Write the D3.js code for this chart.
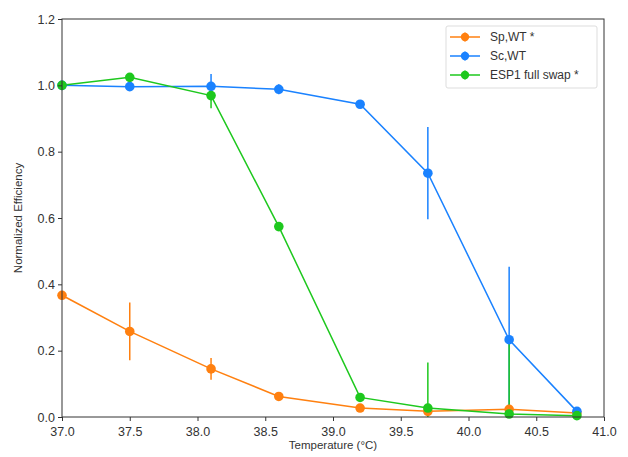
<!DOCTYPE html>
<html>
<head>
<meta charset="utf-8">
<script src="https://cdn.jsdelivr.net/npm/d3@7"></script>
<style>
  body { margin: 0; background: #fff; }
  svg text { font-family: "Liberation Sans", Arial, sans-serif; fill: #333; }
</style>
</head>
<body>
<div class="graph"></div>
<script>
/*
    Data
*/
const temperatures = [37.0, 37.5, 38.1, 38.6, 39.2, 39.7, 40.3, 40.8];

const sp_wt = [0.367, 0.258, 0.145, 0.062, 0.027, 0.017, 0.023, 0.012];
const sp_wt_err = [0, 0.087, 0.033, 0, 0, 0, 0, 0];

const sc_wt = [1.0, 0.996, 0.997, 0.988, 0.943, 0.735, 0.233, 0.017];
const sc_wt_err = [0, 0, 0.037, 0.015, 0, 0.139, 0.22, 0];

const esp1_swap = [1.0, 1.024, 0.969, 0.574, 0.059, 0.027, 0.009, 0.004];
const esp1_swap_err = [0, 0, 0.038, 0, 0, 0.137, 0.23, 0];

const x_ticks = [37.0, 37.5, 38.0, 38.5, 39.0, 39.5, 40.0, 40.5, 41.0];
const y_ticks = [0.0, 0.2, 0.4, 0.6, 0.8, 1.0, 1.2];

const series = [
    { name: "Sp,WT *", values: sp_wt, err: sp_wt_err, color: "#ff8010" },
    { name: "Sc,WT", values: sc_wt, err: sc_wt_err, color: "#1a82ff" },
    { name: "ESP1 full swap *", values: esp1_swap, err: esp1_swap_err, color: "#1ec81e" }
];

/*
    Layout
*/
const svg_dimensions = { width: 628, height: 457 };
const margin = { top: 19, right: 24, bottom: 40, left: 62 };
const plot = {
    width: svg_dimensions.width - margin.left - margin.right,
    height: svg_dimensions.height - margin.top - margin.bottom
};

let xScale = d3.scaleLinear()
                .domain([37, 41])
                .range([0, plot.width]);

let yScale = d3.scaleLinear()
                .domain([0, 1.2])
                .range([plot.height, 0]);

let container = d3.select('.graph').append('svg')
                    .attr('width', svg_dimensions.width)
                    .attr('height', svg_dimensions.height);

let g = container.append('g')
                 .attr('transform', `translate(${margin.left},${margin.top})`);

g.append('clipPath').attr('id', 'clip')
    .append('rect')
    .attr('width', plot.width)
    .attr('height', plot.height);

let xAxis = d3.axisBottom(xScale)
                .tickValues(x_ticks)
                .tickFormat(d3.format('.1f'))
                .tickSize(4)
                .tickSizeOuter(0);
let yAxis = d3.axisLeft(yScale)
                .tickValues(y_ticks)
                .tickFormat(d3.format('.1f'))
                .tickSize(4)
                .tickSizeOuter(0);

/* Rendering */
let data_layer = g.append('g').attr('clip-path', 'url(#clip)');

series.forEach(s => {
    let pts = temperatures.map((t, i) => ({ x: t, y: s.values[i], e: s.err[i] }));

    data_layer.append('path')
        .datum(pts)
        .attr('fill', 'none')
        .attr('stroke', s.color)
        .attr('stroke-width', 1.5)
        .attr('d', d3.line().x(d => xScale(d.x)).y(d => yScale(d.y)));

    data_layer.selectAll(null)
        .data(pts.filter(d => d.e > 0))
        .enter().append('line')
        .attr('x1', d => xScale(d.x))
        .attr('x2', d => xScale(d.x))
        .attr('y1', d => yScale(d.y - d.e))
        .attr('y2', d => yScale(d.y + d.e))
        .attr('stroke', s.color)
        .attr('stroke-width', 1.5);

    g.selectAll(null)
        .data(pts)
        .enter().append('circle')
        .attr('cx', d => xScale(d.x))
        .attr('cy', d => yScale(d.y))
        .attr('r', 4.8)
        .attr('fill', s.color);
});

let xg = g.append('g')
    .attr('transform', `translate(0,${plot.height})`)
    .call(xAxis);
let yg = g.append('g').call(yAxis);

[xg, yg].forEach(a => {
    a.selectAll('.domain').remove();
    a.selectAll('line').attr('stroke', '#333').attr('stroke-width', 1);
    a.selectAll('text').style('font-size', '12.5px').attr('fill', '#333');
});
xg.selectAll('text').attr('dy', '0.95em');

// spines
g.append('rect')
    .attr('width', plot.width)
    .attr('height', plot.height)
    .attr('fill', 'none')
    .attr('stroke', '#333')
    .attr('stroke-width', 1);

container.append('text')
    .attr('x', margin.left + plot.width / 2)
    .attr('y', 449)
    .attr('text-anchor', 'middle')
    .style('font-size', '11.5px')
    .text('Temperature (°C)');

container.append('text')
    .attr('transform', `translate(22,${margin.top + plot.height / 2}) rotate(-90)`)
    .attr('text-anchor', 'middle')
    .style('font-size', '11.5px')
    .text('Normalized Efficiency');

/* Legend */
let legend = g.append('g').attr('transform', `translate(${plot.width - 158},7)`);
legend.append('rect')
    .attr('width', 151)
    .attr('height', 62)
    .attr('rx', 2)
    .attr('fill', '#fff')
    .attr('stroke', '#ddd');

series.forEach((s, i) => {
    let row = legend.append('g').attr('transform', `translate(0,${11 + i * 19})`);
    row.append('line')
        .attr('x1', 4).attr('x2', 34)
        .attr('stroke', s.color).attr('stroke-width', 1.5);
    row.append('line')
        .attr('x1', 19).attr('x2', 19).attr('y1', -4.5).attr('y2', 4.5)
        .attr('stroke', s.color).attr('stroke-width', 1.5);
    row.append('circle')
        .attr('cx', 19).attr('r', 4.2).attr('fill', s.color);
    row.append('text')
        .attr('x', 44).attr('dy', '0.35em')
        .style('font-size', '12px')
        .text(s.name);
});
</script>
</body>
</html>
